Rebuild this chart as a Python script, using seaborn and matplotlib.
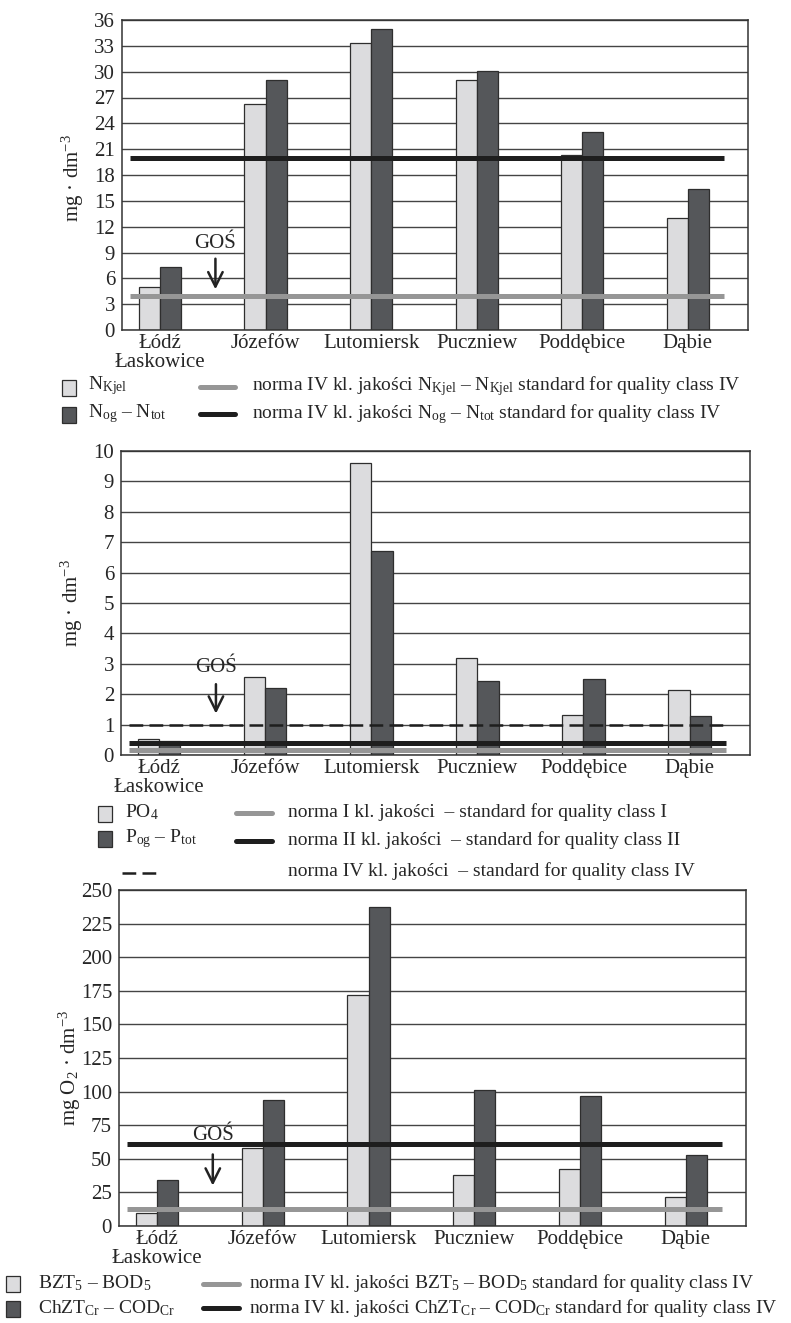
import numpy as np
import pandas as pd
import matplotlib
matplotlib.use("Agg")
import matplotlib.pyplot as plt
import seaborn as sns
from matplotlib.patches import Rectangle
from matplotlib.lines import Line2D

# ---------------- data ----------------
stations = ["Łódź\nŁaskowice", "Józefów", "Lutomiersk", "Puczniew", "Poddębice", "Dąbie"]

n_kjel = [5.0, 26.2, 33.3, 29.0, 20.3, 13.0]
n_tot = [7.35, 29.0, 35.0, 30.1, 23.0, 16.4]
n_kjel_norm = 3.9
n_tot_norm = 20.0

po4 = [0.53, 2.57, 9.6, 3.2, 1.3, 2.15]
p_tot = [0.45, 2.2, 6.72, 2.45, 2.5, 1.27]
p_norm_I = 0.15
p_norm_II = 0.4
p_norm_IV = 1.0

bod5 = [9.4, 57.8, 172.0, 38.0, 42.5, 21.5]
cod = [34.0, 94.0, 237.5, 101.5, 97.0, 52.5]
bod_norm = 13.0
cod_norm = 61.0

yticks1 = list(range(0, 37, 3))
yticks2 = list(range(0, 11, 1))
yticks3 = list(range(0, 251, 25))

# ---------------- style ----------------
sns.set_theme(style="white")
plt.rcParams["font.family"] = ["Liberation Serif", "DejaVu Serif"]
plt.rcParams["mathtext.fontset"] = "custom"
plt.rcParams["mathtext.rm"] = "Liberation Serif"
plt.rcParams["mathtext.it"] = "Liberation Serif:italic"
plt.rcParams["axes.unicode_minus"] = False

LIGHT = "#dcdcde"
DARK = "#55575a"
EDGE = "#2e2e2e"
GRAY_LINE = "#969696"
BLACK_LINE = "#1e1e1e"
FS = 15
LFS = 14

W, H = 791, 1323
fig = plt.figure(figsize=(W / 100, H / 100), dpi=100)
fig.patch.set_facecolor("white")


def fx(x):
    return x / W


def fy(y):
    return 1 - y / H


def add_axes_px(x0, y0, x1, y1):
    return fig.add_axes([fx(x0), fy(y1), (x1 - x0) / W, (y1 - y0) / H])


XLIM = (-0.36, 5.57)
NORM_SPAN = (-0.28, 5.34)


def panel(ax, a, b, yticks, ylabel, label_y=0.5):
    df = pd.DataFrame({
        "station": stations * 2,
        "series": ["A"] * len(stations) + ["B"] * len(stations),
        "value": list(a) + list(b),
    })
    sns.barplot(data=df, x="station", y="value", hue="series",
                order=stations, hue_order=["A", "B"],
                palette=[LIGHT, DARK], saturation=1, width=0.4, dodge=True,
                edgecolor=EDGE, linewidth=0.9, legend=False, ax=ax,
                errorbar=None, zorder=2)
    ax.set_xlim(*XLIM)
    ax.set_ylim(yticks[0], yticks[-1])
    ax.set_yticks(yticks)
    ax.set_axisbelow(True)
    ax.yaxis.grid(True, color="#444444", lw=1.0)
    ax.xaxis.grid(False)
    for s in ax.spines.values():
        s.set_visible(True)
        s.set_color("#333333")
        s.set_linewidth(1.1)
    ax.tick_params(axis="y", direction="out", length=3, color="#444", labelsize=FS, pad=2)
    ax.tick_params(axis="x", length=0, labelsize=FS, pad=3)
    for t in ax.get_xticklabels():
        t.set_linespacing(1.0)
    ax.set_xlabel("")
    ax.set_ylabel(ylabel, fontsize=FS)
    ax.yaxis.set_label_coords(-0.058, label_y)


def gos(ax, x, ytext, y0, y1):
    ax.text(x, ytext, "GOŚ", ha="center", va="center", fontsize=FS, zorder=5)
    ax.annotate("", xy=(x, y1), xytext=(x, y0),
                arrowprops=dict(arrowstyle="->", lw=1.8, color="#222222",
                                mutation_scale=26), zorder=5)


def norm(ax, v, color, lw=3.6, ls="-"):
    ax.hlines(v, NORM_SPAN[0], NORM_SPAN[1], colors=color, lw=lw, linestyles=ls, zorder=4)


def leg_square(xc, yc, color):
    fig.add_artist(Rectangle((fx(xc - 7), fy(yc + 8)), 14 / W, 16 / H,
                             transform=fig.transFigure, facecolor=color,
                             edgecolor=EDGE, lw=0.9))


def leg_line(x0, x1, y, color, lw=3.6, ls="-"):
    fig.add_artist(Line2D([fx(x0), fx(x1)], [fy(y), fy(y)], transform=fig.transFigure,
                          color=color, lw=lw, linestyle=ls))


def leg_text(x, y, s):
    fig.text(fx(x), fy(y), s, ha="left", va="center", fontsize=LFS)


# ---------------- panel 1 ----------------
ax1 = add_axes_px(122, 20, 748, 330)
panel(ax1, n_kjel, n_tot, yticks1, "mg · dm$^{-3}$", 0.49)
norm(ax1, n_tot_norm, BLACK_LINE)
norm(ax1, n_kjel_norm, GRAY_LINE)
gos(ax1, 0.525, 10.0, 8.6, 4.4)

leg_square(69, 388, LIGHT)
leg_square(69, 415, DARK)
leg_text(88, 386, "N$_{\\mathrm{Kjel}}$")
leg_text(88, 414, "N$_{\\mathrm{og}}$ – N$_{\\mathrm{tot}}$")
leg_line(200, 235, 387, GRAY_LINE)
leg_line(200, 235, 414, BLACK_LINE)
leg_text(252, 386, "norma IV kl. jakości N$_{\\mathrm{Kjel}}$ – N$_{\\mathrm{Kjel}}$ standard for quality class IV")
leg_text(252, 414, "norma IV kl. jakości N$_{\\mathrm{og}}$ – N$_{\\mathrm{tot}}$ standard for quality class IV")

# ---------------- panel 2 ----------------
ax2 = add_axes_px(121, 451, 750, 755)
panel(ax2, po4, p_tot, yticks2, "mg · dm$^{-3}$", 0.5)
norm(ax2, p_norm_IV, BLACK_LINE, lw=1.8, ls=(0, (5.5, 2.5)))
norm(ax2, p_norm_II, BLACK_LINE)
norm(ax2, p_norm_I, GRAY_LINE)
gos(ax2, 0.535, 2.87, 2.42, 1.27)

leg_square(105, 814, LIGHT)
leg_square(105, 839, DARK)
leg_text(125, 812, "PO$_4$")
leg_text(125, 839, "P$_{\\mathrm{og}}$ – P$_{\\mathrm{tot}}$")
leg_line(122, 157, 873, BLACK_LINE, lw=1.8, ls=(0, (5.5, 2.5)))
leg_line(236, 272, 813, GRAY_LINE)
leg_line(236, 272, 841, BLACK_LINE)
leg_text(288, 812, "norma I kl. jakości  – standard for quality class I")
leg_text(288, 840, "norma II kl. jakości  – standard for quality class II")
leg_text(288, 871, "norma IV kl. jakości  – standard for quality class IV")

# ---------------- panel 3 ----------------
ax3 = add_axes_px(119, 890, 746, 1226)
panel(ax3, bod5, cod, yticks3, "mg O$_2$ · dm$^{-3}$", 0.47)
norm(ax3, cod_norm, BLACK_LINE)
norm(ax3, bod_norm, GRAY_LINE)
gos(ax3, 0.527, 67.7, 55.3, 28.0)

leg_square(13, 1284, LIGHT)
leg_square(13, 1309, DARK)
leg_text(38, 1283, "BZT$_5$ – BOD$_5$")
leg_text(38, 1308, "ChZT$_{\\mathrm{Cr}}$ – COD$_{\\mathrm{Cr}}$")
leg_line(203, 239, 1284, GRAY_LINE)
leg_line(203, 239, 1308, BLACK_LINE)
leg_text(249, 1283, "norma IV kl. jakości BZT$_5$ – BOD$_5$ standard for quality class IV")
leg_text(249, 1308, "norma IV kl. jakości ChZT$_{\\mathrm{Cr}}$ – COD$_{\\mathrm{Cr}}$ standard for quality class IV")

fig.savefig("out.png", dpi=100, facecolor="white")
